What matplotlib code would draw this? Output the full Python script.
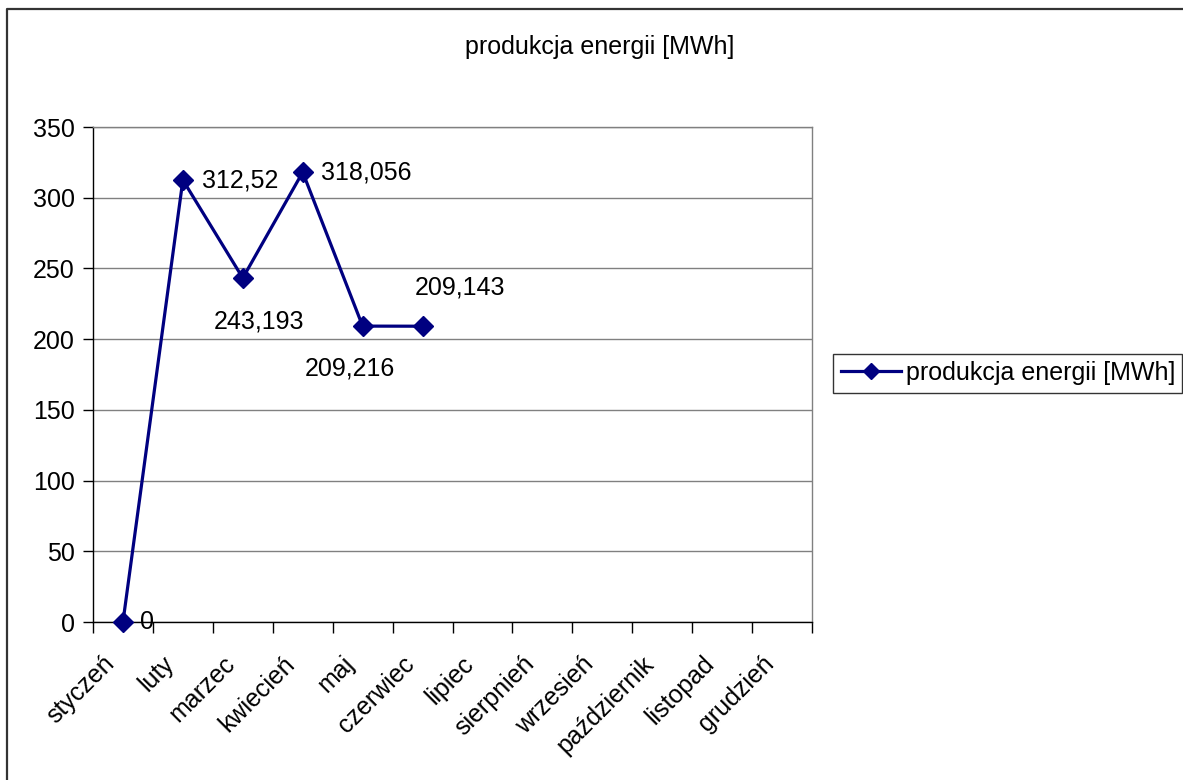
import matplotlib.pyplot as plt
import matplotlib.lines as mlines
import matplotlib.transforms as mtransforms

plt.rcParams['font.family'] = ['Liberation Sans', 'DejaVu Sans']

# dane
miesiace = ['styczeń', 'luty', 'marzec', 'kwiecień', 'maj', 'czerwiec',
            'lipiec', 'sierpnień', 'wrzesień', 'październik', 'listopad', 'grudzień']
produkcja = [0, 312.52, 243.193, 318.056, 209.216, 209.143]
etykiety = ['0', '312,52', '243,193', '318,056', '209,216', '209,143']
# przesuniecia etykiet w pikselach (dx, dy) i wyrownanie
przes = [(17, 0, 'left'), (19, 0, 'left'), (16, -43, 'center'),
         (18, 0, 'left'), (-13, -42, 'center'), (37, 39, 'center')]
y_ticks = list(range(0, 351, 50))

FS = 18
W, H = 1183, 780
fig = plt.figure(figsize=(W / 100, H / 100), dpi=100)
ax = fig.add_axes([93 / W, (H - 622) / H, (812 - 93) / W, (622 - 127) / H])

kolor = '#000080'
x = list(range(len(produkcja)))
ax.plot(x, produkcja, color=kolor, lw=2.3, marker='D', ms=10, zorder=3, clip_on=False)

px = 0.72  # pikseli -> punkty
for i in range(len(produkcja)):
    dx, dy, ha = przes[i]
    ax.annotate(etykiety[i], (x[i], produkcja[i]), xytext=(dx * px, dy * px),
                textcoords='offset points', ha=ha, va='center', fontsize=FS, zorder=4)

ax.set_xlim(-0.5, 11.5)
ax.set_ylim(0, 350)
ax.set_yticks(y_ticks)
ax.set_yticklabels([str(v) for v in y_ticks], fontsize=FS)
ax.yaxis.grid(True, color='#808080', lw=1)
ax.set_axisbelow(True)

# etykiety kategorii w srodku, znaczniki na granicach
ax.set_xticks([i - 0.5 for i in range(13)])
ax.set_xticklabels([])
ax.set_xticks(range(12), minor=True)
ax.set_xticklabels(miesiace, minor=True, rotation=45, ha='right', va='center',
                   rotation_mode='anchor', fontsize=FS)
ax.tick_params(axis='x', which='minor', length=0, pad=0)
przesun = mtransforms.ScaledTranslation(-12 / 100, -38 / 100, fig.dpi_scale_trans)
for lab in ax.get_xticklabels(minor=True):
    lab.set_transform(lab.get_transform() + przesun)
ax.tick_params(axis='x', which='major', length=8, width=1, color='black', direction='out')
ax.tick_params(axis='y', length=7, width=1, direction='out', pad=6)

ax.spines['left'].set_color('black')
ax.spines['bottom'].set_color('black')
ax.spines['top'].set_color('#808080')
ax.spines['right'].set_color('#808080')
for s in ax.spines.values():
    s.set_linewidth(1)

fig.text(600 / W, 1 - 47 / H, 'produkcja energii [MWh]', ha='center', va='center', fontsize=FS)

# legenda
uchwyt = mlines.Line2D([], [], color=kolor, lw=2.3, marker='D', ms=8)
leg = fig.legend([uchwyt], ['produkcja energii [MWh]'], loc='center left',
                 bbox_to_anchor=(833 / W, 1 - 373 / H), fontsize=FS, frameon=True,
                 fancybox=False, edgecolor='black', handlelength=2.4, handletextpad=0.2,
                 borderpad=0.3, borderaxespad=0)
leg.get_frame().set_linewidth(1)

# ramka wykresu (gora i lewo)
fig.add_artist(mlines.Line2D([7 / W, 7 / W, 1], [0, 1 - 9 / H, 1 - 9 / H],
                             transform=fig.transFigure, color='#333333', lw=1.6))

fig.savefig('out.png', dpi=100)
